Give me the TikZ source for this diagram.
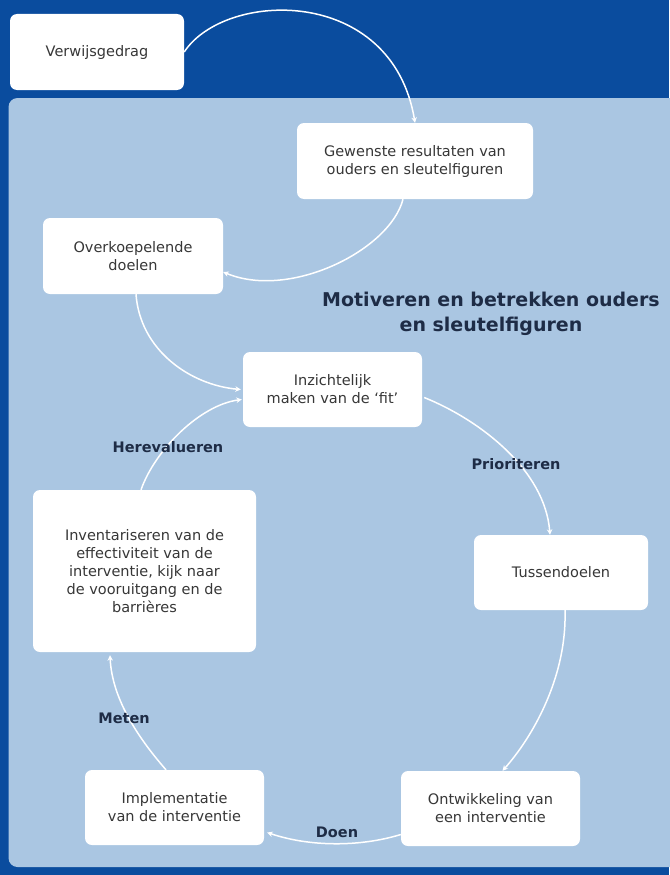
\documentclass[tikz,border=0pt]{standalone}
\usepackage{fontspec}
\setmainfont{DejaVu Sans}
\usetikzlibrary{arrows.meta}
\definecolor{darkbg}{RGB}{10,76,158}
\definecolor{panelbg}{RGB}{170,198,226}
\definecolor{boxtext}{RGB}{55,55,55}
\definecolor{navy}{RGB}{30,44,70}
\begin{document}
\begin{tikzpicture}[x=1pt,y=-1pt,
  card/.style={fill=white, rounded corners=7pt, text=boxtext, align=center,
    font=\fontsize{14.5}{18}\selectfont, inner sep=0pt},
  flow/.style={white, line width=1.5pt, -{Stealth[length=5.5pt,width=5.5pt]}},
  lbl/.style={text=navy, font=\bfseries\fontsize{14.5}{18}\selectfont},
  ttl/.style={text=navy, align=center, font=\bfseries\fontsize{19}{25}\selectfont}]
\useasboundingbox (0,0) rectangle (669,875);
\fill[darkbg] (0,0) rectangle (669,875);
\fill[panelbg, rounded corners=9pt] (8.5,98) rectangle (700,867);

\node[card, minimum width=174pt, minimum height=76pt] (V) at (97,52) {Verwijsgedrag};
\node[card, minimum width=236pt, minimum height=76pt] (G) at (415,161) {Gewenste resultaten van\\ouders en sleutelfiguren};
\node[card, minimum width=180pt, minimum height=76pt] (O) at (133,256) {Overkoepelende\\doelen};
\node[card, minimum width=179pt, minimum height=75pt] (I) at (332.5,389.5) {Inzichtelijk\\maken van de ‘fit’};
\node[card, minimum width=174pt, minimum height=75pt] (T) at (561,572.5) {Tussendoelen};
\node[card, minimum width=223pt, minimum height=162pt] (Inv) at (144.5,571) {Inventariseren van de\\effectiviteit van de\\interventie, kijk naar\\de vooruitgang en de\\barrières};
\node[card, minimum width=179pt, minimum height=75pt] (Imp) at (174.5,807.5) {Implementatie\\van de interventie};
\node[card, minimum width=179pt, minimum height=75pt] (Ont) at (490.5,808.5) {Ontwikkeling van\\een interventie};

\node[ttl] (title) at (491,314) {Motiveren en betrekken ouders\\en sleutelfiguren};

\draw[flow] (V.east) .. controls (225,-10) and (392,-15) .. (G.north);
\draw[flow] ([xshift=-12pt]G.south) .. controls (390,250) and (290,300) .. ([yshift=-16pt]O.east);
\draw[flow] ([xshift=3pt]O.south) .. controls (140,350) and (190,385) .. ([xshift=-2pt]I.west);
\draw[flow] ([xshift=-3.5pt]Inv.north) .. controls (155,450) and (200,405) .. ([xshift=-1pt,yshift=-10pt]I.west);
\draw[flow] ([xshift=2pt,yshift=-8pt]I.east) .. controls (480,420) and (545,470) .. ([xshift=-11pt]T.north);
\draw[flow] ([xshift=4pt]T.south) .. controls (567,680) and (530,740) .. ([xshift=12pt]Ont.north);
\draw[flow] ([yshift=-26pt]Ont.west) .. controls (360,847) and (310,847) .. ([xshift=3pt,yshift=-25pt]Imp.east);
\draw[flow] ([xshift=-8.5pt]Imp.north) .. controls (140,740) and (112,700) .. ([xshift=-34.5pt,yshift=-3pt]Inv.south);

\node[lbl] (l1) at (168,447) {Herevalueren};
\node[lbl] (l2) at (516,464) {Prioriteren};
\node[lbl] (l3) at (124,718) {Meten};
\node[lbl] (l4) at (337,832) {Doen};
\end{tikzpicture}
\end{document}
